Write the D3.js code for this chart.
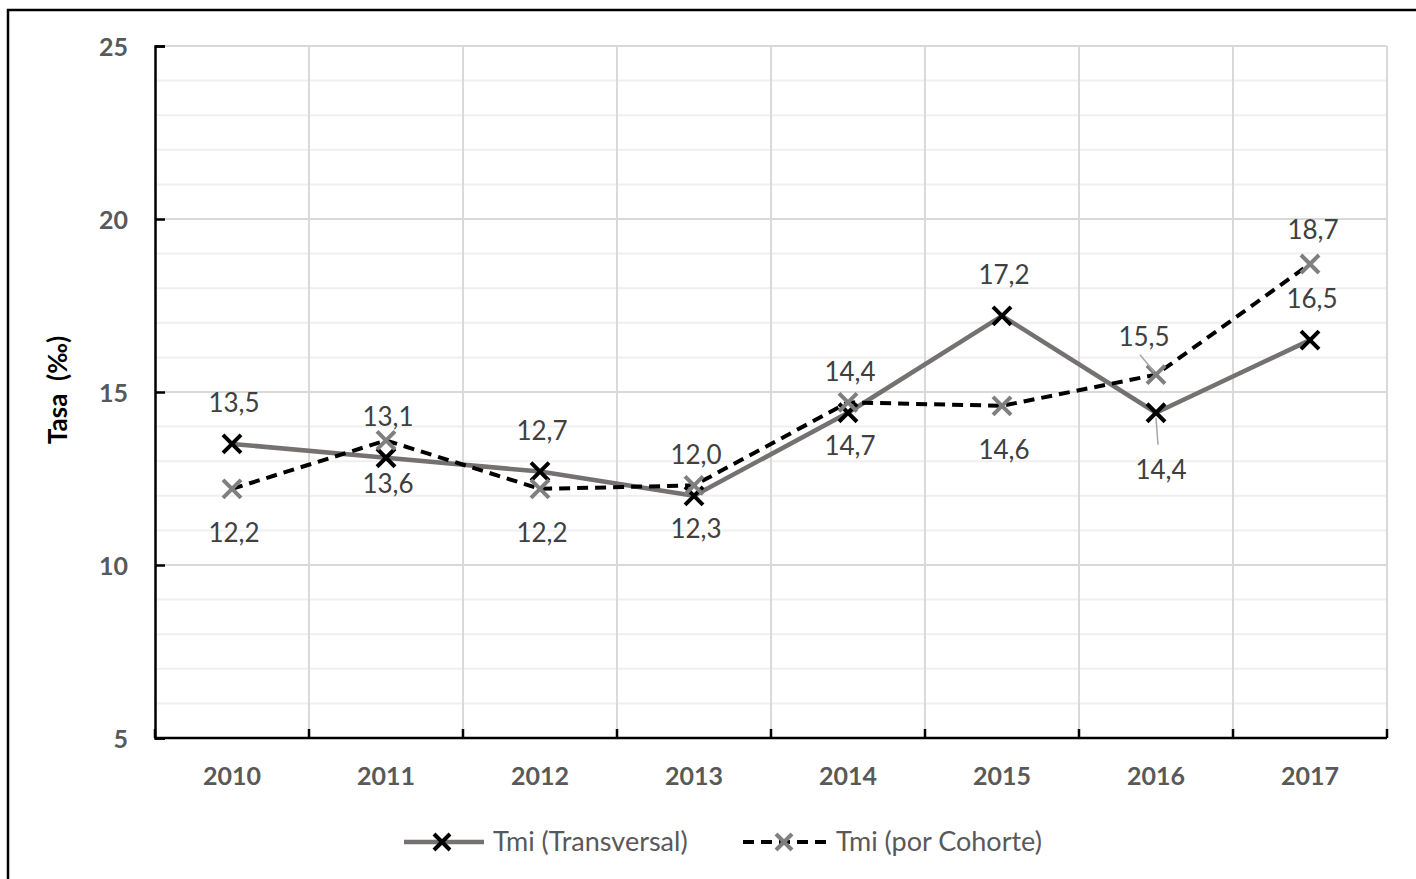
<!DOCTYPE html>
<html>
<head>
<meta charset="utf-8">
<script src="https://cdn.jsdelivr.net/npm/d3@7"></script>
<style>
  html, body { margin: 0; padding: 0; background: #fff; }
  svg { display: block; }
  text { font-family: Lato, "Open Sans", "Liberation Sans", sans-serif; }
</style>
</head>
<body>
<svg id="chart" width="1416" height="879"></svg>
<script>
// Infant mortality rate (‰), 2010–2017
const years = ["2010", "2011", "2012", "2013", "2014", "2015", "2016", "2017"];
const transversal = [13.5, 13.1, 12.7, 12.0, 14.4, 17.2, 14.4, 16.5];
const cohorte = [12.2, 13.6, 12.2, 12.3, 14.7, 14.6, 15.5, 18.7];
const yTicks = [5, 10, 15, 20, 25];
const seriesNames = ["Tmi (Transversal)", "Tmi (por Cohorte)"];
const yTitle = "Tasa  (‰)";

const svg = d3.select("#chart");
const W = 1416, H = 879;
const plot = { left: 155, right: 1387, top: 46, bottom: 738 };

// Outer frame
svg.append("rect")
  .attr("x", 8).attr("y", 10)
  .attr("width", W + 20).attr("height", H + 20)
  .attr("fill", "#fff").attr("stroke", "#000").attr("stroke-width", 2.5);

const x = d3.scaleBand().domain(years).range([plot.left, plot.right]).padding(0);
const y = d3.scaleLinear().domain([5, 25]).range([plot.bottom, plot.top]);

const fmt = v => d3.format(".1f")(v).replace(".", ",");

// Minor horizontal gridlines (every unit)
const minor = d3.range(6, 25).filter(v => v % 5 !== 0);
svg.append("g").selectAll("line").data(minor).join("line")
  .attr("x1", plot.left).attr("x2", plot.right)
  .attr("y1", d => y(d)).attr("y2", d => y(d))
  .attr("stroke", "#efefef").attr("stroke-width", 2);

// Major horizontal gridlines
svg.append("g").selectAll("line").data(yTicks.filter(v => v > 5)).join("line")
  .attr("x1", plot.left).attr("x2", plot.right)
  .attr("y1", d => y(d)).attr("y2", d => y(d))
  .attr("stroke", "#d9d9d9").attr("stroke-width", 2);

// Vertical gridlines at category boundaries
const bounds = years.map(d => x(d)).concat([x(years[years.length - 1]) + x.bandwidth()]);
svg.append("g").selectAll("line").data(bounds.slice(1)).join("line")
  .attr("x1", d => d).attr("x2", d => d)
  .attr("y1", plot.top).attr("y2", plot.bottom)
  .attr("stroke", "#d9d9d9").attr("stroke-width", 2);

// Y axis
const yAxis = svg.append("g")
  .attr("transform", `translate(${plot.left},0)`)
  .call(d3.axisLeft(y).tickValues(yTicks).tickSize(-10).tickPadding(27).tickFormat(d3.format("d")));
yAxis.select(".domain").attr("stroke", "#000").attr("stroke-width", 2.5);
yAxis.selectAll(".tick line").attr("stroke", "#000").attr("stroke-width", 2.5);
yAxis.selectAll(".tick text")
  .attr("fill", "#595959").attr("font-size", 25).attr("font-weight", "bold")
  .attr("dy", "0.36em");

// X axis: ticks at category boundaries, labels at band centres
const xAxisG = svg.append("g").attr("transform", `translate(0,${plot.bottom})`);
xAxisG.append("line")
  .attr("x1", plot.left).attr("x2", plot.right)
  .attr("stroke", "#000").attr("stroke-width", 2.5);
xAxisG.selectAll("line.tk").data(bounds).join("line").attr("class", "tk")
  .attr("x1", d => d).attr("x2", d => d).attr("y1", 0).attr("y2", -9)
  .attr("stroke", "#000").attr("stroke-width", 2.5);
xAxisG.selectAll("text").data(years).join("text")
  .attr("x", d => x(d) + x.bandwidth() / 2).attr("y", 47)
  .attr("text-anchor", "middle")
  .attr("fill", "#595959").attr("font-size", 25).attr("font-weight", "bold")
  .text(d => d);

// Y axis title
svg.append("text")
  .attr("transform", "translate(67,390) rotate(-90)")
  .attr("text-anchor", "middle")
  .attr("fill", "#000").attr("font-size", 26).attr("font-weight", "bold")
  .attr("xml:space", "preserve")
  .text(yTitle);

const cx = d => x(d) + x.bandwidth() / 2;

// Lines
const line = d3.line().x(d => cx(d.year)).y(d => y(d.v));
const tData = years.map((yr, i) => ({ year: yr, v: transversal[i] }));
const cData = years.map((yr, i) => ({ year: yr, v: cohorte[i] }));

svg.append("path").datum(tData).attr("d", line)
  .attr("fill", "none").attr("stroke", "#767171").attr("stroke-width", 4.5)
  .attr("stroke-linejoin", "round");
svg.append("path").datum(cData).attr("d", line)
  .attr("fill", "none").attr("stroke", "#000").attr("stroke-width", 4)
  .attr("stroke-dasharray", "11,7");

// X-shaped markers
function cross(g, px, py, r, color, w) {
  g.append("path")
    .attr("d", `M${px - r},${py - r}L${px + r},${py + r}M${px - r},${py + r}L${px + r},${py - r}`)
    .attr("stroke", color).attr("stroke-width", w).attr("fill", "none");
}
const mk = svg.append("g");
tData.forEach(d => cross(mk, cx(d.year), y(d.v), 9, "#000", 4));
cData.forEach(d => cross(mk, cx(d.year), y(d.v), 9, "#7f7f7f", 4));

// Data labels: transversal above, cohort below, with a few moved by hand
const labelMoves = {
  "t-2016": { dx: 5, dy: 57, leader: [[0, 5], [2, 32]] },
  "c-2016": { dx: -12, dy: -38, leader: [[-16, -20], [-2, -3]] },
  "c-2017": { dx: 3, dy: -34 }
};
const lbl = svg.append("g");
function addLabels(data, key, defDy) {
  data.forEach(d => {
    const px = cx(d.year), py = y(d.v);
    const mv = labelMoves[key + "-" + d.year] || { dx: 2, dy: defDy };
    if (mv.leader) {
      lbl.append("line")
        .attr("x1", px + mv.leader[0][0]).attr("y1", py + mv.leader[0][1])
        .attr("x2", px + mv.leader[1][0]).attr("y2", py + mv.leader[1][1])
        .attr("stroke", "#a6a6a6").attr("stroke-width", 1.5);
    }
    lbl.append("text")
      .attr("x", px + mv.dx).attr("y", py + mv.dy + 9)
      .attr("text-anchor", "middle")
      .attr("fill", "#404040").attr("font-size", 26)
      .text(fmt(d.v));
  });
}
addLabels(tData, "t", -41);
addLabels(cData, "c", 44);

// Legend
const lg = svg.append("g").attr("transform", "translate(0,842)");
lg.append("line").attr("x1", 404).attr("x2", 484)
  .attr("stroke", "#767171").attr("stroke-width", 4.5);
cross(lg, 442, 0, 8, "#000", 4);
lg.append("text").attr("x", 493).attr("y", 9)
  .attr("fill", "#595959").attr("font-size", 27).text(seriesNames[0]);
lg.append("line").attr("x1", 743).attr("x2", 826)
  .attr("stroke", "#000").attr("stroke-width", 4).attr("stroke-dasharray", "11,7");
cross(lg, 784, 0, 8, "#7f7f7f", 4);
lg.append("text").attr("x", 836).attr("y", 9)
  .attr("fill", "#595959").attr("font-size", 27).text(seriesNames[1]);
</script>
</body>
</html>
